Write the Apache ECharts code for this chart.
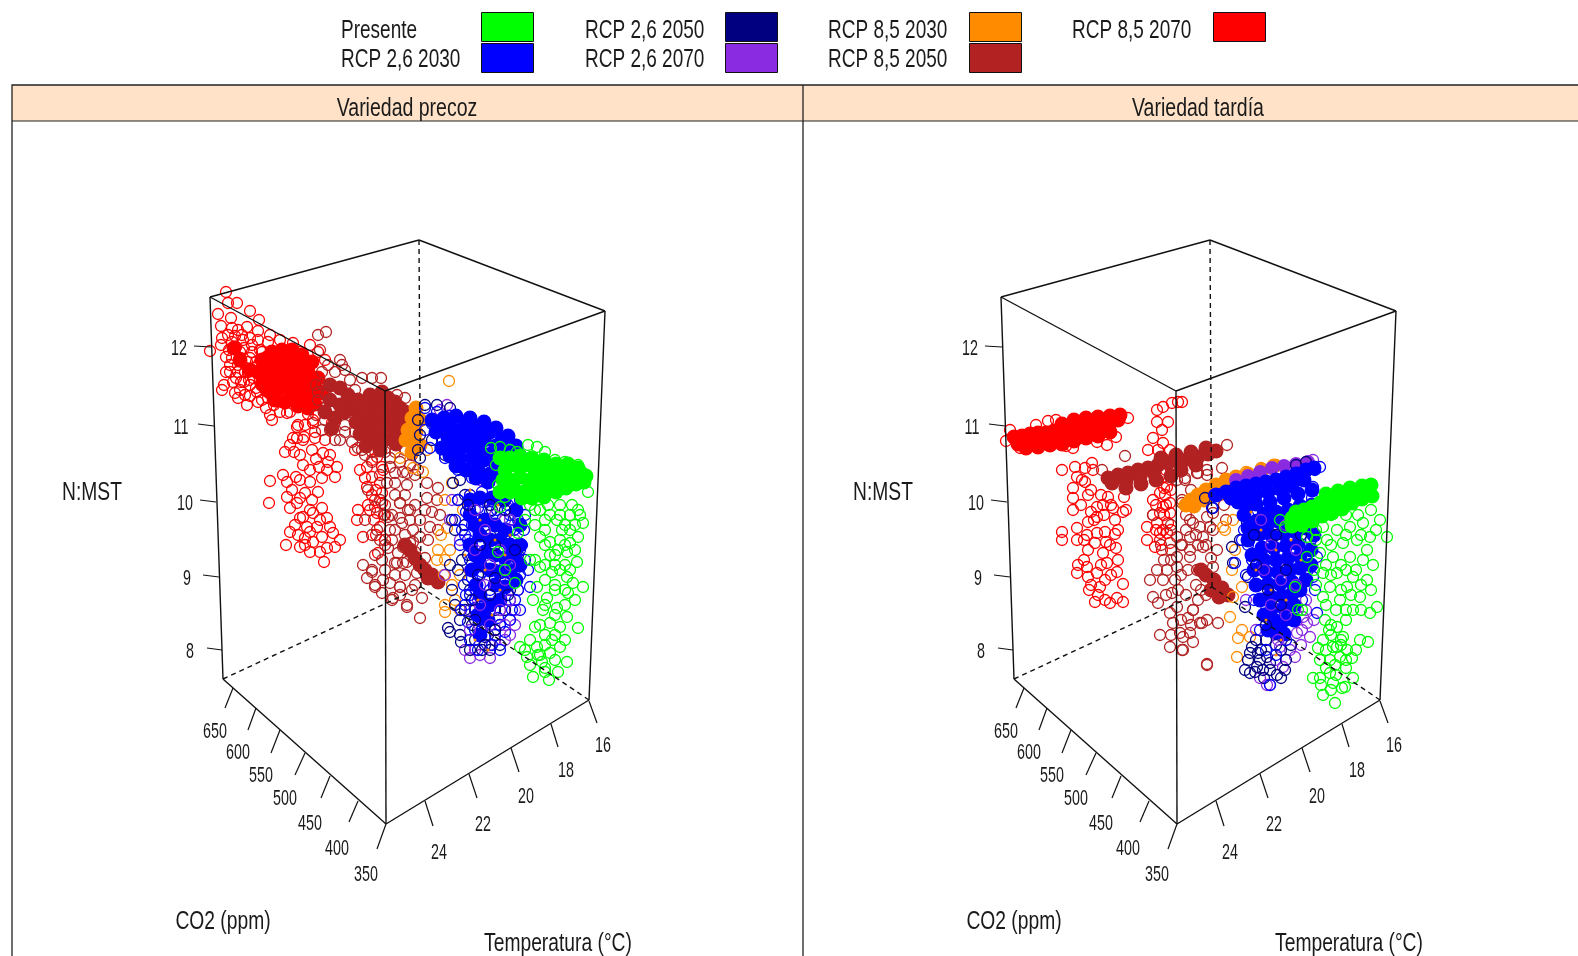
<!DOCTYPE html>
<html><head><meta charset="utf-8">
<style>html,body{margin:0;padding:0;background:#fff;overflow:hidden}#c{width:1578px;height:956px}</style>
<script src="https://cdn.jsdelivr.net/npm/echarts@6/dist/echarts.min.js"></script>
</head><body><div id="c"></div>
<script>
// Escenarios y colores
const escenarios=['Presente','RCP 2,6 2030','RCP 2,6 2050','RCP 2,6 2070','RCP 8,5 2030','RCP 8,5 2050','RCP 8,5 2070'];
const colores=['#00FF00','#0000FF','#000080','#8A2BE2','#FF8C00','#B22222','#FF0000'];
const paneles=['Variedad precoz','Variedad tardía'];
const ticksNMST=['12','11','10','9','8'];
const ticksCO2=['650','600','550','500','450','400','350'];
const ticksTemp=['24','22','20','18','16'];

const precozRojo=[226,292,228,303,237,303,218,314,250,311,221,326,231,318,259,320,222,338,232,328,258,331,221,345,210,351,226,357,226,372,224,385,222,390,235,393,243,340,240,352,238,365,236,378,245,395,252,345,250,358,248,372,256,388,262,400,266,408,270,415,232,342,244,382,255,368,262,352,268,342,264,378,276,395,250,385,240,390,230,365,238,330,247,327,293,343,300,352,
228,335,235,336,242,335,250,338,258,340,229,350,236,347,244,348,252,352,260,350,232,358,240,358,247,362,256,362,230,372,238,372,245,372,253,378,260,375,233,382,241,382,249,380,257,392,264,388,238,398,250,396,258,402,268,398,274,405,280,412,272,420,247,405,280,340,270,335,310,345,318,352,325,360,
290,412,308,414,313,420,298,425,332,423,297,438,315,432,325,440,335,422,285,452,304,437,312,450,294,452,270,481,269,503,283,475,287,482,296,477,310,482,322,478,335,477,337,467,328,462,323,453,316,459,303,465,293,438,303,440,315,438,297,427,305,425,313,423,287,413,327,470,319,467,290,445,300,455,310,470,330,455,300,480,
287,497,305,493,318,492,312,500,290,508,297,503,322,508,300,518,313,513,327,518,290,532,298,535,307,527,317,527,333,533,286,545,300,547,310,552,324,562,335,547,327,548,322,537,313,542,303,517,305,538,330,527,292,490,300,498,310,510,320,520,295,525,305,545,320,552,310,532,340,540,
355,450,360,470,367,467,377,457,382,467,372,477,380,483,365,478,358,510,357,520,382,503,370,510,380,527,363,537,378,553,382,493,375,500,377,513,383,470,367,487,372,460,376,490,372,495,368,505,374,520,384,515,376,535,385,540];
const precozRojoNucleo=[262,360,272,352,282,350,292,350,302,355,312,362,258,372,268,366,278,362,288,362,298,366,308,372,318,378,262,384,272,378,282,374,292,376,302,380,312,386,322,392,270,392,280,388,290,390,300,394,310,398,285,402,298,406,308,408,240,360,250,370,234,348,
267,358,277,356,287,356,297,360,307,366,263,378,273,372,283,368,293,370,303,374,313,380,267,390,277,384,287,382,297,386,307,392,317,394,275,400,290,398,300,402,315,404];
const precozGranate=[318,335,326,332,340,360,342,365,320,350,322,385,318,400,325,420,330,430,345,425,340,440,316,385,358,402,352,410,362,378,372,378,381,378,397,395,405,398,355,390,328,365,335,372,345,370,322,372,350,380,318,392,326,395,345,432,335,440,322,430,316,415,355,432,352,442,358,448,365,455,372,452,385,452,395,452,405,450,412,455,390,458,400,462,410,465,418,470,
390,467,403,472,415,475,395,483,407,485,427,483,438,488,400,503,410,510,427,498,437,500,388,517,402,523,413,530,430,527,375,507,377,530,392,540,403,547,413,542,420,537,382,560,395,563,407,562,372,570,383,580,375,587,392,600,407,605,422,598,400,587,415,585,420,618,
395,495,405,495,415,505,425,510,432,512,440,515,385,505,392,515,400,518,410,520,420,520,428,540,438,530,395,530,405,535,415,552,425,558,380,540,388,548,398,553,375,555,385,570,395,575,405,575,412,590,400,595,
363,565,372,572,367,578,375,585,390,583,400,587,407,607,393,598,382,593,403,563,417,573,397,563,410,543,390,530,400,503,408,510,395,473,407,473,387,483,362,450,372,462,380,475,368,490,380,500,385,515,365,520,372,535,385,545];
const precozGranateNucleo=[330,385,340,388,330,400,340,405,325,412,335,418,345,412,332,428,348,395,358,400,370,395,382,392,395,402,405,412,358,412,370,408,382,405,394,414,404,424,362,425,374,420,386,418,398,428,368,436,380,432,392,438,378,444,425,570,432,575,438,582,428,578,420,565,415,558,410,550,405,545,
364,402,376,400,388,398,400,408,410,418,352,405,364,414,376,414,388,412,400,420,410,430,356,422,368,428,380,426,392,426,404,436,360,434,372,442,384,440,396,444,366,446,380,450];
const precozNaranja=[449,381,400,458,413,468,423,472,427,450,452,483,445,500,447,528,441,535,438,550,437,560,445,560,450,550,444,575,452,585,445,605,455,600,445,612,460,610,460,575,470,495,463,510];
const precozNaranjaNucleo=[416,408,412,418,420,420,408,430,416,432,406,440,414,443,412,452,420,445];
const precozMarino=[425,405,437,405,450,408,445,425,418,420,420,435,418,450,420,458,432,440,445,455,470,510,453,483,452,520,458,500,455,530,450,565,452,590,462,560,458,570,455,605,448,628,460,635,450,632,461,642,475,640,490,650,482,650,500,645,495,630,490,625,485,637,472,625,465,610,470,650,478,630,505,610,472,545,468,580,
460,480,465,495,478,500,492,510,505,500,515,515,465,525,480,520,490,535,505,540,518,555,468,555,480,560,495,570,510,590,470,590,482,600,495,610,460,620,475,610,488,635];
const precozMorado=[440,410,447,405,480,425,497,440,516,445,515,500,510,555,518,590,515,625,510,620,505,610,515,610,500,625,505,640,490,645,470,658,475,650,465,650,510,545,452,500,450,520,445,575,460,540,470,610,485,610,498,600,512,575,475,520,490,560,480,585,500,580,
470,470,480,480,495,475,505,480,515,480,485,500,470,500,505,520,515,540,495,530,480,555,470,570,505,565,515,570,490,595,478,600,500,610,510,635,495,640,480,655,490,658];
const precozAzul=[425,408,437,412,450,416,432,424,425,430,442,440,430,448,445,458,458,470,472,478,485,478,497,483,510,490,520,500,525,515,458,500,470,495,482,492,495,497,508,505,518,520,455,520,466,512,478,508,490,512,503,518,514,530,524,530,462,530,472,525,460,545,468,540,522,545,470,560,477,555,525,560,472,578,482,572,520,575,466,595,476,590,518,590,475,608,530,587,510,600,468,622,480,618,498,618,512,610,505,632,482,630,492,645,470,640,478,650,500,650,461,610,464,585,520,610,528,570,
470,505,483,502,497,510,510,515,465,535,478,530,510,530,472,545,520,550,480,575,510,560,517,565,470,595,475,600,515,600,490,610,500,625,485,625,510,620,495,635,475,630,465,605,490,590];
const precozAzulNucleo=[440,428,452,428,465,425,478,428,490,432,502,440,448,438,460,436,472,436,484,440,496,446,508,452,455,448,467,446,479,448,491,454,503,462,460,458,472,458,484,460,496,466,478,470,490,474,485,520,495,525,505,530,480,535,490,540,500,540,510,545,485,552,495,555,505,558,515,555,490,570,500,572,510,572,495,585,505,587,480,595,490,605,500,600,478,615,488,620,480,635,
432,420,444,418,456,416,470,418,484,422,496,428,508,436,516,446,436,432,442,448,450,456,456,466,466,470,476,478,488,482,500,476,510,462,520,456,
470,500,480,498,492,498,504,500,516,510,470,515,475,525,520,525,470,545,475,555,472,570,480,565,520,545,520,565,516,580,476,585,482,610];
const precozMoradoEncima=[475,510,495,515,485,530,510,520,475,550,500,550,490,565,510,565,485,585,505,580,480,605,500,610,490,625,470,630,510,600,505,625];
const precozMarinoEncima=[468,505,490,505,505,510,480,545,495,545,515,550,478,575,495,578,472,600,490,595,508,595,475,620,495,630,485,645];
const precozMotas=[480,520,495,540,505,555,485,570,500,590,478,600,492,615,510,535,475,640,488,650,470,490,498,505,465,555];
const precozVerde=[491,448,500,447,510,450,517,452,528,445,537,447,545,452,555,460,565,462,578,465,585,478,588,492,583,473,496,465,498,485,505,497,557,520,570,530,583,523,550,542,560,540,570,543,578,537,540,537,567,552,577,562,558,550,540,567,552,572,567,577,573,583,583,587,537,587,547,598,557,608,543,610,568,593,578,628,567,617,550,623,533,600,535,627,560,627,520,647,527,657,537,647,550,653,560,647,567,662,542,662,533,677,549,680,558,672,530,665,518,533,498,552,505,570,515,583,500,507,548,505,560,505,572,505,535,510,545,520,562,530,555,565,565,565,555,590,545,635,538,655,545,668,552,640,530,560,550,555,578,510,
530,505,540,510,550,515,560,515,570,515,580,515,525,520,535,525,545,530,565,525,575,525,545,545,555,555,565,545,575,550,535,560,545,565,560,570,570,570,545,580,555,585,565,590,575,600,545,605,555,615,565,605,540,625,555,635,545,645,565,640,530,640,525,650,540,655,555,660,545,672];
const precozVerdeNucleo=[505,470,515,465,525,465,535,470,545,470,555,472,565,472,575,475,510,480,520,477,530,480,540,482,550,483,560,480,570,480,515,490,527,490,537,490,503,480,548,490,580,472,
500,458,510,458,520,456,532,458,544,460,556,464,568,464,578,468,586,476,500,492,510,492,522,498,532,498,544,497,556,492,566,488,576,484,584,482];

const tardiaRojo=[220,441,224,430,234,448,240,445,250,425,262,421,270,420,280,446,287,448,311,442,321,445,330,437,342,418,334,418,
276,470,289,467,299,468,306,463,307,470,291,477,299,482,287,488,287,498,287,510,302,495,311,507,317,505,322,497,338,497,327,508,337,512,302,522,311,517,329,520,276,532,276,540,291,528,291,540,301,535,311,533,319,532,329,534,302,550,309,543,317,553,324,545,291,573,292,565,301,567,302,577,311,573,321,563,332,560,331,572,319,580,303,590,314,587,337,584,309,602,319,600,331,598,337,602,324,603,
296,480,305,490,315,495,325,505,295,505,305,512,318,515,332,530,298,540,308,520,320,542,330,548,315,565,325,575,305,585,312,595,298,560,340,510,
371,410,377,407,386,403,392,402,396,402,371,422,382,422,376,430,367,438,377,443,362,450,384,450,367,500,374,493,381,487,361,527,361,540,371,523,374,540,381,533,384,543,376,550,369,547,384,503,384,513,374,513,367,515,379,495,377,507,382,523,377,530,374,533,385,490,378,488,370,505,372,450,380,470,372,480,385,470,378,515,370,530,380,505,385,530];
const tardiaRojoNucleo=[228,437,236,436,244,434,252,433,260,433,268,431,276,431,284,428,292,426,300,425,308,423,316,423,324,423,332,420,232,444,244,442,256,440,268,438,280,436,292,434,304,431,318,429,
240,448,252,447,264,445,276,444,288,441,300,438,312,436,324,432,276,424,288,420,300,418,312,417,324,416,334,415];
const tardiaGranate=[339,456,316,470,399,478,411,473,421,470,391,480,367,515,396,503,404,520,414,527,364,580,377,580,389,580,367,597,372,603,386,593,391,607,407,610,402,618,414,623,421,620,384,613,387,623,374,635,384,647,396,650,407,642,397,637,421,664,404,557,411,570,391,557,381,570,371,570,417,547,427,567,431,587,417,537,404,537,391,537,424,527,427,513,417,493,399,480,412,473,436,468,441,445,431,452,421,475,396,500,407,523,421,517,427,530,431,550,404,550,391,567,407,610,404,633,394,633,397,650,432,623,421,665,416,623,
378,560,385,550,396,545,375,545,410,500,400,515,385,525,412,545,425,558,402,570,415,590,392,590,405,490,415,500,400,530,410,535,420,545,395,545,385,560,395,575,410,585,420,595,400,595,412,600,380,595,395,620,385,635,405,625,440,520,438,505,430,495];
const tardiaGranateNucleo=[322,478,332,475,342,473,352,470,362,468,372,465,382,463,392,461,402,459,412,457,422,454,430,451,326,483,340,481,354,477,368,473,340,488,355,484,370,480,385,476,395,470,410,465,375,458,390,455,405,452,420,448,420,575,428,580,436,588,442,595,425,590,433,597,415,570];
const tardiaNaranja=[460,472,475,468,490,465,447,520,439,530,449,550,456,587,447,597,444,617,452,638,451,657,456,630,437,527,462,537,446,570,464,637,470,560];
const tardiaNaranjaNucleo=[405,500,412,495,420,490,430,485,440,480,450,477,462,474,476,470,488,466,408,506,418,500,428,494,438,488,400,505];
const tardiaMarino=[419,498,427,508,446,547,447,563,461,523,454,540,462,577,459,607,466,647,464,653,459,670,464,673,471,667,477,670,484,663,491,675,499,670,474,660,484,670,469,672,481,657,472,653,510,465,520,462,480,640,495,650,470,640,462,660,475,650,490,645,500,660,505,645,478,678,495,678];
const tardiaMorado=[527,460,521,623,524,637,511,633,504,650,509,657,497,667,474,678,481,685,484,685,516,630,517,617,494,647,520,600,505,620,490,660,470,630,460,600,480,610,512,590,470,545,500,560,520,610,528,620,515,645];
const tardiaMoradoNucleo=[450,480,462,476,474,472,486,468,498,466,510,464,522,462];
const tardiaAzul=[527,487,526,498,531,557,527,577,529,590,531,613,449,563,456,540,426,508,484,685,534,467,529,470,462,515,470,520,458,530,466,560,462,545,525,525,525,540,472,585,468,600,478,615,474,630,516,600,522,570,480,650,490,655,500,640,508,610,460,575,428,495];
const tardiaAzulNucleo=[430,495,440,492,450,488,460,486,470,484,480,482,490,480,500,477,510,474,520,470,528,468,445,498,458,496,470,494,482,492,494,489,506,486,518,480,470,504,484,502,498,498,512,494,478,514,490,512,502,510,514,506,470,522,482,524,494,522,506,520,518,516,474,534,486,536,498,534,510,532,520,528,476,548,488,548,500,546,512,544,478,560,490,560,502,558,514,556,480,572,492,572,504,570,514,568,482,584,494,584,506,582,484,596,496,596,506,594,486,608,498,608,488,620,498,620,490,632,498,634,
462,505,452,502,458,515,462,528,526,490,526,505,524,520,528,535,525,550,525,565,462,540,466,555,468,570,470,585,474,600,478,615,482,630,508,605,514,590,520,580,508,620];
const tardiaMoradoEncima=[475,520,500,525,485,545,510,550,478,570,495,580,510,585,485,605,500,615,492,640];
const tardiaMarinoEncima=[468,535,490,535,515,535,470,565,500,570,482,590,495,605,480,625];
const tardiaMotas=[475,530,490,550,505,540,485,590,500,600,480,620,495,640,470,570,515,560,490,655,465,512,512,525];
const tardiaVerde=[494,520,499,527,594,520,601,537,521,537,521,557,509,587,512,610,516,610,537,527,551,530,564,527,577,523,584,537,541,540,557,543,571,540,581,550,534,553,547,557,564,557,577,560,587,565,537,573,551,573,567,577,581,580,544,587,561,587,574,597,554,600,591,607,584,613,537,597,567,610,539,620,551,627,557,637,537,640,574,640,582,642,547,647,561,650,534,660,544,660,554,657,566,658,527,678,534,678,544,673,556,688,567,678,537,695,549,703,559,687,547,683,551,647,
545,635,540,650,555,640,549,665,560,668,543,630,532,648,560,620,530,530,545,515,560,515,572,515,585,510,528,570,560,570,575,585,530,540,545,545,560,535,575,535,590,530,540,565,555,565,570,570,585,590,545,575,555,590,565,595,575,610,540,605,550,610,560,610,530,585,545,625,555,645,560,660,540,668,550,675,545,690,535,685,570,650];
const tardiaVerdeNucleo=[510,512,518,510,526,507,534,503,542,500,550,498,558,496,566,494,574,492,582,491,506,518,516,517,526,514,536,509,546,506,556,503,506,526,516,525,526,521,536,516,546,513,556,509,566,503,576,499,586,496,540,494,552,491,564,488,576,486,585,485];

// Marco del cubo (segmentos x0,y0,x1,y1)
const aristas=[210,297,419,240,419,240,605,311,605,311,385,391,385,391,210,297,210,297,223,679,385,391,386,824,605,311,589,700,223,679,386,824,386,824,589,700];
const aristasOcultas=[223,679,421,587,589,700,421,587,419,240,421,587];
const marcas=[194,346,211,347,198,424,214,426,200,500,216,502,203,575,219,577,207,648,222,650,
233,688,225,708,256,708,248,730,280,730,271,753,305,753,295,775,330,776,321,798,358,801,349,822,386,824,377,849,
425,801,433,826,469,774,477,798,511,748,519,772,551,724,558,747,589,701,597,723];
const posNMST=[179,349,181,428,185,504,187,579,190,652];
const posCO2=[215,732,238,753,261,776,285,799,310,824,337,849,366,875];
const posTemp=[439,853,483,825,526,797,566,771,603,746];
const posTitulos=[92,493,223,922,558,944];
const titulosEjes=['N:MST','CO2 (ppm)','Temperatura (°C)'];
const posPaneles=[407,109,1198,109];
const posLeyenda=[341,31,341,60,585,31,585,60,828,31,828,60,1072,31];
const ordenLeyenda=[0,1,2,3,4,5,6];
const desplMarco=[0,5];

const pares=a=>{const r=[];for(let i=0;i<a.length;i+=2)r.push([a[i],a[i+1]]);return r;};
const mover=(a,dx)=>a.map((v,i)=>i%2?v:v+dx);
const FUENTE='"Liberation Sans",Arial,sans-serif';
const series=[];

function nube(p,nombre,color,datos,relleno){
  series.push({type:'scatter',name:nombre,xAxisIndex:p,yAxisIndex:p,data:pares(datos),symbol:'circle',
    symbolSize:relleno?relleno:11,silent:true,animation:false,clip:false,
    itemStyle:relleno?{color:color,opacity:1}:{color:'rgba(0,0,0,0)',borderColor:color,borderWidth:1.3,opacity:1}});
}
function textos(p,filas,tam,esc,alin){
  series.push({type:'custom',xAxisIndex:p,yAxisIndex:p,silent:true,animation:false,clip:false,
    data:filas.map(f=>[f[0],f[1]]),encode:{x:0,y:1},z:5,
    renderItem:(params,api)=>{const c=api.coord([api.value(0),api.value(1)]);
      return {type:'text',x:c[0],y:c[1],scaleX:esc,style:{text:filas[params.dataIndex][2],font:tam+'px '+FUENTE,fill:'#1a1a1a',align:alin||'center',verticalAlign:'middle'}};}});
}
function segmentos(p,seg,punteado,ancho){
  const all=pares(seg);
  for(let i=0;i<all.length;i+=2)
    series.push({type:'line',xAxisIndex:p,yAxisIndex:p,data:[all[i],all[i+1]],showSymbol:false,silent:true,animation:false,clip:false,z:3,
      lineStyle:{color:'#111',width:ancho,type:punteado?[5,4]:'solid'}});
}
const filasDe=(pos,txt)=>pares(pos).map((c,i)=>[c[0],c[1],txt[i]]);

[
 {g:precozGranate,gn:precozGranateNucleo,r:precozRojo,rn:precozRojoNucleo,n:precozNaranja,nn:precozNaranjaNucleo,m:precozMarino,o:precozMorado,on:[],a:precozAzul,an:precozAzulNucleo,v:precozVerde,vn:precozVerdeNucleo,oe:precozMoradoEncima,me:precozMarinoEncima,mo:precozMotas},
 {g:tardiaGranate,gn:tardiaGranateNucleo,r:tardiaRojo,rn:tardiaRojoNucleo,n:tardiaNaranja,nn:tardiaNaranjaNucleo,m:tardiaMarino,o:tardiaMorado,on:tardiaMoradoNucleo,a:tardiaAzul,an:tardiaAzulNucleo,v:tardiaVerde,vn:tardiaVerdeNucleo,oe:tardiaMoradoEncima,me:tardiaMarinoEncima,mo:tardiaMotas}
].forEach((d,p)=>{
  const dx=desplMarco[p];
  nube(p,escenarios[6],colores[6],d.r,0); nube(p,escenarios[6],colores[6],d.rn,15);
  nube(p,escenarios[5],colores[5],d.g,0); nube(p,escenarios[5],colores[5],d.gn,15);
  nube(p,escenarios[4],colores[4],d.n,0); nube(p,escenarios[4],colores[4],d.nn,15);
  nube(p,escenarios[3],colores[3],d.o,0); if(d.on.length) nube(p,escenarios[3],colores[3],d.on,14);
  nube(p,escenarios[2],colores[2],d.m,0);
  nube(p,escenarios[1],colores[1],d.a,0); nube(p,escenarios[1],colores[1],d.an,15);
  nube(p,escenarios[3],colores[3],d.oe,0); nube(p,escenarios[2],colores[2],d.me,0);
  nube(p,escenarios[4],colores[4],d.mo,3);
  nube(p,escenarios[0],colores[0],d.v,0); nube(p,escenarios[0],colores[0],d.vn,15);
  segmentos(p,mover(aristasOcultas,dx),true,1.4);
  segmentos(p,mover(aristas,dx),false,1.4);
  segmentos(p,mover(marcas,dx),false,1.2);
  textos(p,filasDe(mover(posNMST,dx),ticksNMST),22,.65);
  textos(p,filasDe(mover(posCO2,dx),ticksCO2),22,.65);
  textos(p,filasDe(mover(posTemp,dx),ticksTemp),22,.65);
  textos(p,filasDe(mover(posTitulos,dx),titulosEjes),26,.74);
});
// Cabecera: rejilla de página completa
textos(2,filasDe(posPaneles,paneles),25,.78);
textos(2,filasDe(posLeyenda,ordenLeyenda.map(i=>escenarios[i])),25,.76,'left');

const leyenda=(grupo,izq)=>({left:izq,top:12,orient:'vertical',itemWidth:52,itemHeight:29,itemGap:1,padding:0,selectedMode:false,
  formatter:()=>'',textStyle:{fontSize:1},
  data:grupo.map(i=>({name:escenarios[i],icon:'rect',itemStyle:{color:colores[i],borderColor:'#111',borderWidth:1,opacity:1}}))});

const chart=echarts.init(document.getElementById('c'),null,{renderer:'canvas'});
const eje=(g,max,inv)=>({type:'value',gridIndex:g,min:0,max:max,inverse:!!inv,show:false,splitLine:{show:false}});
chart.setOption({backgroundColor:'#fff',animation:false,
  grid:[{left:0,top:0,width:792,height:956},{left:786,top:0,width:792,height:956},{left:0,top:0,width:1578,height:956}],
  xAxis:[eje(0,792),eje(1,792),eje(2,1578)],yAxis:[eje(0,956,true),eje(1,956,true),eje(2,956,true)],
  legend:[leyenda([0,1],481),leyenda([2,3],725),leyenda([4,5],969),leyenda([6],1213)],
  graphic:{elements:[
    {type:'rect',z:-1,shape:{x:12,y:85,width:1566,height:36},style:{fill:'#FFE2C8',stroke:'none'}},
    {type:'polyline',z:-1,shape:{points:[[12,956],[12,85],[1578,85]]},style:{stroke:'#222',lineWidth:1.3,fill:'none'}},
    {type:'line',z:-1,shape:{x1:12,y1:121,x2:1578,y2:121},style:{stroke:'#222',lineWidth:1.2}},
    {type:'line',z:-1,shape:{x1:803,y1:85,x2:803,y2:956},style:{stroke:'#222',lineWidth:1.3}}
  ]},
  series:series});
</script></body></html>
